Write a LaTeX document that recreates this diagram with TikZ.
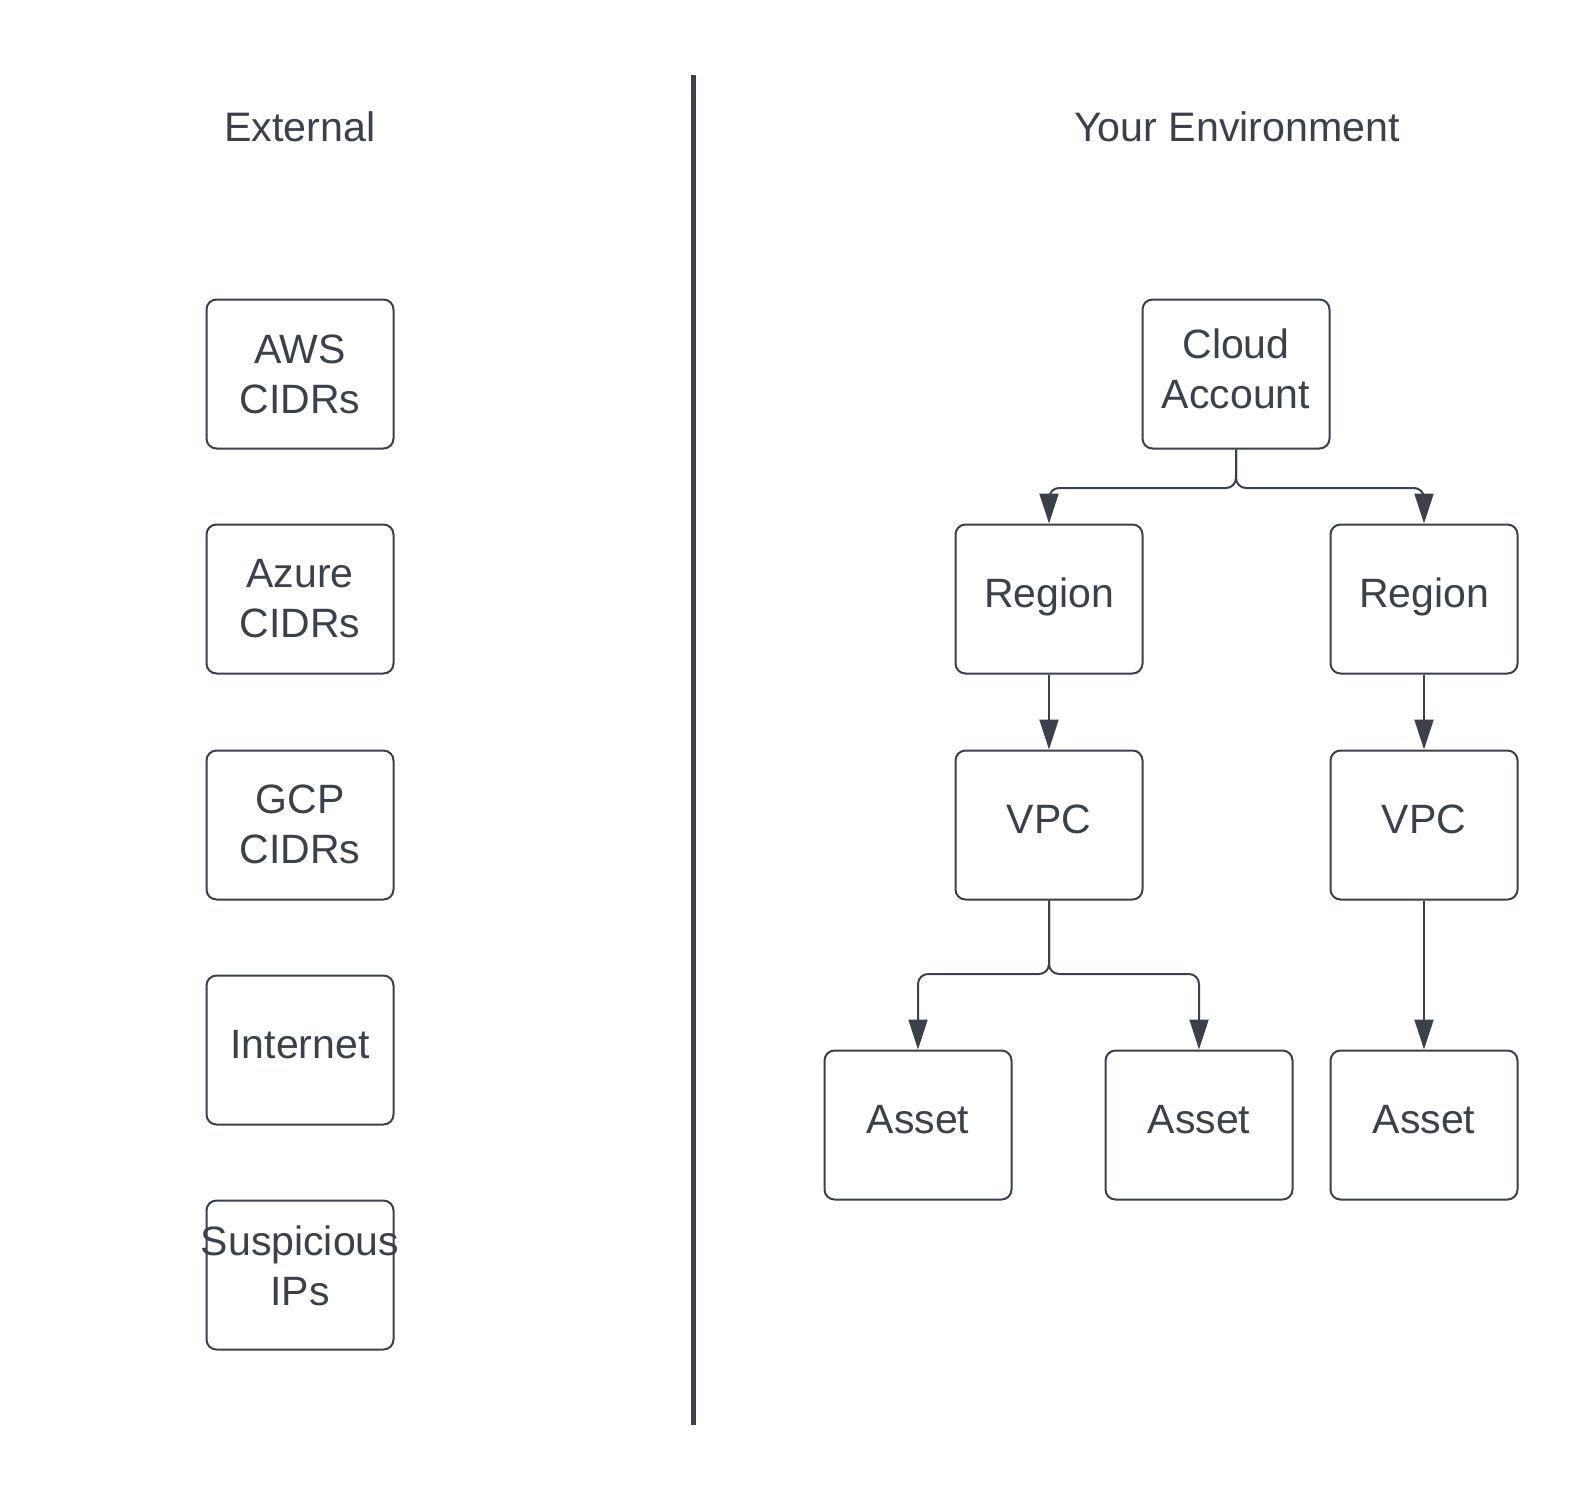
\documentclass[tikz,border=0pt]{standalone}
\usepackage{fontspec}
\setmainfont{Liberation Sans}
\usetikzlibrary{arrows.meta}
\definecolor{ink}{HTML}{3A414A}
\newcommand{\lowstrut}[1]{\rule[-#1]{0pt}{#1}}
\begin{document}
\begin{tikzpicture}[x=0.5pt,y=-0.5pt,
 box/.style={draw=ink, line width=1pt, rounded corners=5pt, minimum width=93.5pt, minimum height=74.5pt, inner sep=0pt, align=center, text=ink, font=\fontsize{20.5}{25}\selectfont},
 oneline/.style={box, text height=15pt, text depth=7pt},
 title/.style={text=ink, inner sep=0pt, font=\fontsize{20.6}{25}\selectfont},
 conn/.style={draw=ink, line width=1pt, rounded corners=5pt, -{Triangle[length=15pt,width=9.5pt]}},
 divider/.style={draw=ink, line width=2.5pt}]
\useasboundingbox (0,0) rectangle (1594,1500);
\fill[white] (0,0) rectangle (1594,1500);
% titles
\node[title] (tExt) at (300,127) {External};
\node[title] (tEnv) at (1237,127) {Your Environment};
% divider
\coordinate (dTop) at (693,75);
\coordinate (dBot) at (693,1425);
\draw[divider] (dTop) -- (dBot);
% external boxes
\node[box] (aws) at (300,374) {AWS\\CIDRs};
\node[box] (azure) at (300,599) {Azure\\CIDRs};
\node[box] (gcp) at (300,825) {GCP\\CIDRs\lowstrut{1pt}};
\node[oneline] (inet) at (300,1050) {Internet};
\node[box] (susp) at (300,1275) {\makebox[0pt]{Suspicious}\\IPs\lowstrut{9.3pt}};
% environment tree
\node[box] (ca) at (1236,374) {Cloud\\Account\lowstrut{5pt}};
\node[oneline] (rl) at (1049,599) {Region};
\node[oneline] (rr) at (1424,599) {Region};
\node[oneline] (vl) at (1049,825) {VPC};
\node[oneline] (vr) at (1424,825) {VPC};
\node[oneline] (a1) at (918,1125) {Asset};
\node[oneline] (a2) at (1199,1125) {Asset};
\node[oneline] (a3) at (1424,1125) {Asset};
% connectors
\draw[conn] (ca.south) -- (ca.south |- 0,488) -| (rl.north);
\draw[conn] (ca.south) -- (ca.south |- 0,488) -| (rr.north);
\draw[conn] (rl.south) -- (vl.north);
\draw[conn] (rr.south) -- (vr.north);
\draw[conn] (vl.south) -- (vl.south |- 0,974) -| (a1.north);
\draw[conn] (vl.south) -- (vl.south |- 0,974) -| (a2.north);
\draw[conn] (vr.south) -- (a3.north);
\end{tikzpicture}
\end{document}
